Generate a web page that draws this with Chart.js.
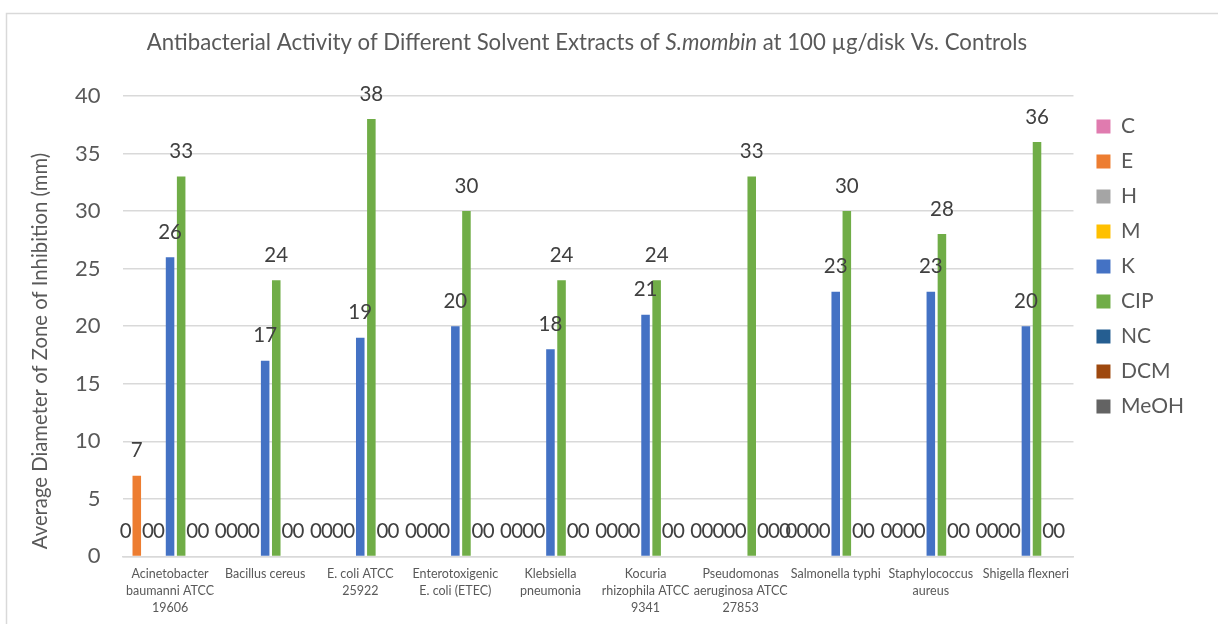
<!DOCTYPE html>
<html>
<head>
<meta charset="utf-8">
<script src="https://cdn.jsdelivr.net/npm/chart.js@4.4.1/dist/chart.umd.min.js"></script>
<style>
html,body{margin:0;padding:0;background:#fff;}
#wrap{width:1218px;height:624px;}
</style>
</head>
<body>
<div id="wrap"><canvas id="c" width="1218" height="624"></canvas></div>
<script>
// ---- data ----
const categories = [
  ["Acinetobacter","baumanni ATCC","19606"],
  "Bacillus cereus",
  ["E. coli ATCC","25922"],
  ["Enterotoxigenic","E. coli (ETEC)"],
  ["Klebsiella","pneumonia"],
  ["Kocuria","rhizophila ATCC","9341"],
  ["Pseudomonas","aeruginosa ATCC","27853"],
  "Salmonella typhi",
  ["Staphylococcus","aureus"],
  "Shigella flexneri"
];
const seriesNames = ["C","E","H","M","K","CIP","NC","DCM","MeOH"];
const C_vals    = [0,0,0,0,0,0,0,0,0,0];
const E_vals    = [7,0,0,0,0,0,0,0,0,0];
const H_vals    = [0,0,0,0,0,0,0,0,0,0];
const M_vals    = [0,0,0,0,0,0,0,0,0,0];
const K_vals    = [26,17,19,20,18,21,0,23,23,20];
const CIP_vals  = [33,24,38,30,24,24,33,30,28,36];
const NC_vals   = [0,0,0,0,0,0,0,0,0,0];
const DCM_vals  = [0,0,0,0,0,0,0,0,0,0];
const MeOH_vals = [null,null,null,null,null,null,0,null,null,null];
const yTicks = [0,5,10,15,20,25,30,35,40];
const titleParts = [
  ["Antibacterial Activity of Different Solvent Extracts of ", false],
  ["S.mombin", true],
  [" at 100 \u00b5g/disk Vs. Controls", false]
];
const yTitle = "Average Diameter of Zone of Inhibition (mm)";

// ---- styles ----
const colors = ["#E07BAF","#ED7D31","#A5A5A5","#FFC000","#4472C4","#70AD47","#255E91","#9E480E","#636363"];
const allVals = [C_vals,E_vals,H_vals,M_vals,K_vals,CIP_vals,NC_vals,DCM_vals,MeOH_vals];
const FONT = "Lato";
const TXT = "#595959";

const datasets = seriesNames.map((n,i)=>({
  label:n, data:allVals[i], backgroundColor:colors[i], borderWidth:0,
  categoryPercentage:1.05, barPercentage:0.77
}));

const framePlugin = {
  id:'frame',
  afterLayout(chart){
    if (chart.legend) {
      chart.legend.left += 9; chart.legend.right += 9;
      chart.legend.top += 6; chart.legend.bottom += 6;
    }
  },
  beforeDraw(chart){
    const ctx = chart.ctx;
    ctx.save();
    ctx.fillStyle = '#fff';
    ctx.fillRect(0,0,chart.width,chart.height);
    ctx.strokeStyle = '#d9d9d9';
    ctx.lineWidth = 1.5;
    ctx.strokeRect(6.5,13.5,1400,800);
    ctx.restore();
  },
  afterDraw(chart){
    const ctx = chart.ctx;
    ctx.save();
    ctx.fillStyle = TXT;
    ctx.textBaseline = 'middle';
    const size = 22.2;
    let total = 0;
    titleParts.forEach(([t,it])=>{ ctx.font = (it?'italic ':'')+size+'px '+FONT; total += ctx.measureText(t).width; });
    let x = 587 - total/2;
    titleParts.forEach(([t,it])=>{
      ctx.font = (it?'italic ':'')+size+'px '+FONT;
      ctx.textAlign = 'left';
      ctx.fillText(t,x,43);
      x += ctx.measureText(t).width;
    });
    // y axis title
    ctx.translate(40,351);
    ctx.rotate(-Math.PI/2);
    ctx.font = '20.3px '+FONT;
    ctx.textAlign = 'center';
    ctx.fillText(yTitle,0,0);
    ctx.restore();
  }
};

const labelPlugin = {
  id:'vlabels',
  afterDatasetsDraw(chart){
    const ctx = chart.ctx;
    ctx.save();
    ctx.fillStyle = '#404040';
    ctx.font = '20.5px '+FONT;
    ctx.textAlign = 'center';
    ctx.textBaseline = 'alphabetic';
    chart.data.datasets.forEach((ds,di)=>{
      const meta = chart.getDatasetMeta(di);
      meta.data.forEach((el,j)=>{
        const v = ds.data[j];
        if (v === null || v === undefined) return;
        ctx.fillText(String(v), el.x, el.y - 18.5);
      });
    });
    ctx.restore();
  }
};

new Chart(document.getElementById('c'), {
  type:'bar',
  data:{labels:categories, datasets},
  options:{
    responsive:false,
    devicePixelRatio:1,
    animation:false,
    layout:{padding:{top:96,left:53,right:33,bottom:-1}},
    plugins:{
      title:{display:false},
      tooltip:{enabled:false},
      legend:{
        position:'right',
        align:'start',
        labels:{
          boxWidth:14, boxHeight:14, padding:14,
          color:TXT, font:{family:FONT,size:21}
        }
      }
    },
    scales:{
      x:{
        grid:{display:false, drawTicks:false},
        border:{display:true, color:'#d9d9d9', width:1.5},
        ticks:{color:TXT, font:{family:FONT,size:12.5,lineHeight:1.35}, maxRotation:0, autoSkip:false, padding:9}
      },
      y:{
        min:0, max:40,
        afterBuildTicks(s){ s.ticks = yTicks.map(v=>({value:v})); },
        grid:{color:'#d9d9d9', lineWidth:1.5, drawTicks:false},
        border:{display:false},
        ticks:{color:TXT, font:{family:FONT,size:22}, padding:22},
        title:{display:false}
      }
    }
  },
  plugins:[framePlugin,labelPlugin]
});
</script>
</body>
</html>
